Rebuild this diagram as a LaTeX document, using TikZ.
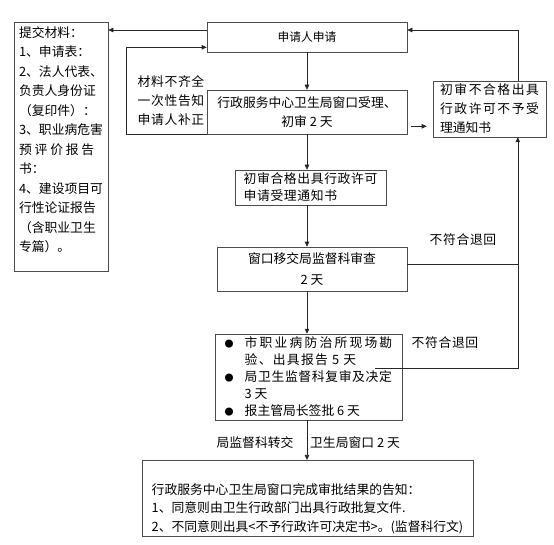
\documentclass[tikz,border=0pt]{standalone}
\usepackage{fontspec}
\setmainfont{Noto Sans CJK SC}
\usetikzlibrary{arrows.meta}
\newcommand{\spread}[2]{{\addfontfeature{LetterSpace=#1}#2}}
\newcommand{\dotmark}{\makebox[20pt][l]{\fontsize{9pt}{9pt}\selectfont ●}}

\begin{document}
\begin{tikzpicture}[x=1pt, y=-1pt, line width=0.6pt,
    every node/.style={font=\fontsize{12.8pt}{19pt}\selectfont},
    box/.style={rectangle, draw=black!70, inner sep=3pt},
    arr/.style={black!85, -{Triangle[length=5pt,width=4.5pt]}}]
  \useasboundingbox (0,0) rectangle (554,544);

  % boxes
  \node[box, minimum width=94pt, minimum height=249pt, align=left,
        font=\fontsize{12.8pt}{19.5pt}\selectfont] (mat) at (61,146.5)
        {提交材料：\\1、申请表：\\2、法人代表、\\负责人身份证\\（复印件）：\\3、职业病危害\\
         \spread{22}{预评价报告}\\书：\\4、建设项目可\\行性论证报告\\（含职业卫生\\专篇）。\\[-5pt]\mbox{}};
  \node[box, minimum width=200pt, minimum height=30pt,
        font=\fontsize{11.8pt}{19pt}\selectfont] (apply) at (307,37) {申请人申请};
  \node[box, minimum width=200pt, minimum height=44pt, align=center] (accept) at (307,112)
        {行政服务中心卫生局窗口受理、\\初审 2 天};
  \node[box, minimum width=151pt, minimum height=35pt, align=left,
        font=\fontsize{12.8pt}{17pt}\selectfont] (pass) at (310.5,187.5)
        {\spread{5}{初审合格出具行政许可}\\\spread{5}{申请受理通知书}};
  \node[box, minimum width=190pt, minimum height=44pt, align=center,
        font=\fontsize{12.8pt}{21pt}\selectfont] (transfer) at (312,269)
        {窗口移交局监督科审查\\2 天};
  \node[box, minimum width=187pt, minimum height=84pt, align=left,
        font=\fontsize{12.8pt}{17pt}\selectfont] (steps) at (308.5,377)
        {\dotmark\spread{17}{市职业病防治所现场勘}\\
         \hspace*{20pt}\spread{10}{验、出具报告 5 天}\\
         \dotmark\spread{5}{局卫生监督科复审及决定}\\
         \hspace*{20pt}3 天\\
         \dotmark 报主管局长签批 6 天};
  \node[box, minimum width=331pt, minimum height=73pt, align=left,
        font=\fontsize{12.8pt}{18.5pt}\selectfont] (result) at (307.5,498.5)
        {\mbox{}\\[12.5pt]行政服务中心卫生局窗口完成审批结果的告知：\\
         1、同意则由卫生行政部门出具行政批复文件.\\
         2、不同意则出具<不予行政许可决定书>。(监督科行文)};
  \node[box, minimum width=113pt, minimum height=52pt, align=left] (reject) at (489.5,109)
        {\spread{12}{初审不合格出具}\\\spread{12}{行政许可不予受}\\理通知书};

  % labels
  \node[align=center] (incomp) at (171,101)
        {\spread{5}{材料不齐全}\\\spread{5}{一次性告知}\\\spread{5}{申请人补正}};
  \node (back1) at (463,240) {\spread{5}{不符合退回}};
  \node (back2) at (445,343) {\spread{5}{不符合退回}};
  \node (handover) at (255,443) {局监督科转交};
  \node (window) at (355,443) {卫生局窗口 2 天};

  % connectors
  \coordinate (applyout) at ([yshift=7pt]apply.west);
  \draw[arr] (applyout) -- (applyout -| mat.east);
  \coordinate (applyin) at ([yshift=5pt]apply.south west);
  \draw[arr] (accept.south west) -- ++(-80,0) |- (applyin);
  \draw[arr] (apply) -- (accept);
  \coordinate (acceptout) at ([yshift=8pt]accept.south east);
  \draw[arr, shorten <=4pt, shorten >=6pt] (acceptout) -- (acceptout -| reject.west);
  \draw[arr] ([xshift=-28.5pt]reject.north east) |- ([yshift=7pt]apply.east);
  \draw[arr] (accept.south) -- (accept.south |- pass.north);
  \draw[arr] (accept.south |- pass.south) -- (accept.south |- transfer.north);
  \draw[arr] (accept.south |- transfer.south) -- (accept.south |- steps.north);
  \draw[arr] (accept.south |- steps.south) -- (accept.south |- result.north);
  \draw[arr] ([yshift=5pt]transfer.east) -| coordinate[pos=0.5] (ret) ([xshift=-28.5pt]reject.south east);
  \draw[black!85] ([xshift=-27pt,yshift=9pt]steps.east) -| (ret);
\end{tikzpicture}
\end{document}
